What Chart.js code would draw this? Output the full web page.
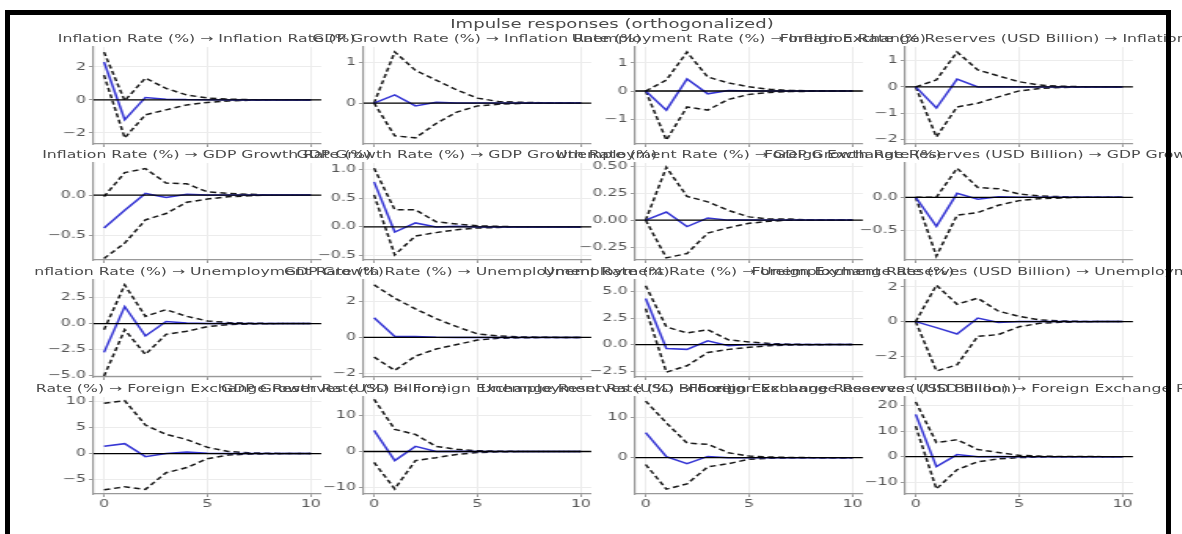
<!DOCTYPE html>
<html>
<head>
<meta charset="utf-8">
<script src="https://cdn.jsdelivr.net/npm/chart.js@4.4.1/dist/chart.umd.min.js"></script>
<style>
  html, body { margin: 0; padding: 0; background: #fff; width: 1182px; height: 534px; overflow: hidden; }
  #fig { position: absolute; left: 34px; top: 0; width: 1148px; height: 534px; overflow: hidden; filter: blur(0.3px); }
  #inner { position: absolute; left: 0; top: 0; width: 732px; height: 534px; transform: scaleX(1.57); transform-origin: 0 0; font-family: "DejaVu Sans", sans-serif; }
  #inner canvas { position: absolute; }
  .ttl { position: absolute; width: 1000px; text-align: center; white-space: nowrap; color: #4a4a4a; font-size: 10px; line-height: 12px; }
  .sup { font-size: 11.5px; line-height: 14px; }
  #frame { position: absolute; left: 5px; top: 10px; width: 1156px; height: 600px; border: 5px solid #000; }
</style>
</head>
<body>
<div id="fig"><div id="inner"></div></div>
<div id="frame"></div>
<script>
const horizons = [0, 1, 2, 3, 4, 5, 6, 7, 8, 9, 10];
const variables = ['Inflation Rate (%)', 'GDP Growth Rate (%)', 'Unemployment Rate (%)', 'Foreign Exchange Reserves (USD Billion)'];
const xTicks = [0, 5, 10];

// each row: response of one variable; inner lists: impulse from variables[0..3]
const irfInflation = [
  [2.3, -1.2, 0.15, 0.05, 0.02, 0.01, 0, 0, 0, 0, 0],
  [0, 0.2, -0.07, 0.02, 0, 0, 0, 0, 0, 0, 0],
  [0, -0.68, 0.43, -0.1, 0.02, 0, 0, 0, 0, 0, 0],
  [0, -0.8, 0.3, 0, 0.01, 0, 0, 0, 0, 0, 0]
];
const upperInflation = [
  [2.9, -0.05, 1.33, 0.7, 0.3, 0.12, 0.05, 0.02, 0.01, 0, 0],
  [0, 1.25, 0.8, 0.56, 0.32, 0.12, 0.04, 0.02, 0.01, 0, 0],
  [0, 0.39, 1.39, 0.5, 0.29, 0.15, 0.06, 0.02, 0.01, 0, 0],
  [0, 0.27, 1.33, 0.65, 0.42, 0.2, 0.07, 0.03, 0.01, 0, 0]
];
const lowerInflation = [
  [1.5, -2.3, -0.9, -0.6, -0.3, -0.15, -0.06, -0.02, -0.01, 0, 0],
  [0, -0.8, -0.85, -0.5, -0.22, -0.07, -0.03, -0.01, 0, 0, 0],
  [0, -1.75, -0.57, -0.68, -0.3, -0.12, -0.05, -0.02, -0.01, 0, 0],
  [0, -1.9, -0.76, -0.62, -0.38, -0.15, -0.06, -0.02, -0.01, 0, 0]
];

const irfGdp = [
  [-0.41, -0.19, 0.02, -0.03, 0.01, 0, 0, 0, 0, 0, 0],
  [0.79, -0.09, 0.07, 0, 0.01, 0, 0, 0, 0, 0, 0],
  [0, 0.075, -0.06, 0.02, 0, 0, 0, 0, 0, 0, 0],
  [0, -0.44, 0.06, -0.03, 0.01, 0, 0, 0, 0, 0, 0]
];
const upperGdp = [
  [-0.02, 0.28, 0.33, 0.15, 0.14, 0.04, 0.02, 0.01, 0, 0, 0],
  [1.03, 0.3, 0.3, 0.09, 0.05, 0.02, 0.01, 0, 0, 0, 0],
  [0, 0.49, 0.22, 0.17, 0.09, 0.03, 0.01, 0.01, 0, 0, 0],
  [0, 0, 0.44, 0.15, 0.13, 0.05, 0.02, 0.01, 0, 0, 0]
];
const lowerGdp = [
  [-0.79, -0.6, -0.31, -0.23, -0.09, -0.05, -0.02, -0.01, 0, 0, 0],
  [0.56, -0.49, -0.16, -0.1, -0.05, -0.02, -0.01, 0, 0, 0, 0],
  [0, -0.35, -0.31, -0.12, -0.07, -0.03, -0.01, 0, 0, 0, 0],
  [0, -0.89, -0.27, -0.23, -0.12, -0.05, -0.02, -0.01, 0, 0, 0]
];

const irfUnemp = [
  [-2.8, 1.65, -1.2, 0.2, 0.05, 0, 0, 0, 0, 0, 0],
  [1.1, 0.05, 0.05, 0.01, 0, 0, 0, 0, 0, 0, 0],
  [4.35, -0.37, -0.45, 0.35, -0.1, 0.02, 0, 0, 0, 0, 0],
  [0, -0.35, -0.72, 0.2, -0.05, 0, 0, 0, 0, 0, 0]
];
const upperUnemp = [
  [-0.6, 3.75, 0.7, 1.35, 0.7, 0.25, 0.1, 0.04, 0.01, 0, 0],
  [2.95, 2.2, 1.6, 1.05, 0.6, 0.2, 0.08, 0.03, 0.01, 0, 0],
  [5.55, 1.67, 1.1, 1.4, 0.45, 0.25, 0.1, 0.04, 0.01, 0, 0],
  [0, 2.1, 1.0, 1.35, 0.6, 0.3, 0.1, 0.04, 0.01, 0, 0]
];
const lowerUnemp = [
  [-5.1, -0.6, -3.0, -1.05, -0.75, -0.3, -0.1, -0.04, -0.01, 0, 0],
  [-1.1, -1.85, -1.05, -0.65, -0.4, -0.15, -0.05, -0.02, -0.01, 0, 0],
  [3.4, -2.6, -2.0, -0.75, -0.45, -0.25, -0.1, -0.04, -0.01, 0, 0],
  [0, -2.85, -2.5, -0.85, -0.75, -0.3, -0.1, -0.04, -0.01, 0, 0]
];

const irfReserves = [
  [1.4, 1.9, -0.6, 0, 0.3, 0.05, 0, 0, 0, 0, 0],
  [5.8, -2.5, 1.4, 0, 0.1, 0, 0, 0, 0, 0, 0],
  [6.2, 0.25, -1.5, 0.3, 0, 0, 0, 0, 0, 0, 0],
  [16.5, -3.9, 0.8, 0, 0.1, 0, 0, 0, 0, 0, 0]
];
const upperReserves = [
  [9.7, 10.2, 5.5, 3.7, 2.7, 1.2, 0.4, 0.15, 0.05, 0, 0],
  [14.4, 6.1, 4.7, 1.4, 0.6, 0.2, 0.1, 0.03, 0, 0, 0],
  [14, 8.6, 3.6, 3.3, 1.2, 0.4, 0.15, 0.05, 0, 0, 0],
  [21.4, 5.5, 6.6, 2.8, 1.6, 0.5, 0.2, 0.07, 0.02, 0, 0]
];
const lowerReserves = [
  [-7.0, -6.4, -6.9, -3.7, -2.7, -1.0, -0.3, -0.1, -0.03, 0, 0],
  [-3.0, -10.3, -2.5, -1.7, -0.8, -0.3, -0.1, -0.03, 0, 0, 0],
  [-1.7, -7.8, -6.5, -2.3, -1.5, -0.4, -0.15, -0.05, 0, 0, 0],
  [11.9, -12.6, -5.1, -2.0, -0.9, -0.4, -0.1, -0.04, -0.01, 0, 0]
];

// y tick values per panel, row = response
const yTicks = [
  [[-2, 0, 2], [0, 1], [-1, 0, 1], [-2, -1, 0, 1]],
  [[-0.5, 0], [-0.5, 0, 0.5, 1], [-0.25, 0, 0.25, 0.5], [-0.5, 0]],
  [[-5, -2.5, 0, 2.5], [-2, 0, 2], [-2.5, 0, 2.5, 5], [-2, 0, 2]],
  [[-5, 0, 5, 10], [-10, 0, 10], [0, 10], [-10, 0, 10, 20]]
];
// axis limits per panel [min, max]
const yLimits = [
  [[-2.67, 3.21], [-1.0, 1.37], [-1.89, 1.57], [-2.17, 1.52]],
  [[-0.81, 0.4], [-0.58, 1.12], [-0.37, 0.53], [-0.95, 0.52]],
  [[-5.19, 4.23], [-2.22, 3.22], [-3.06, 6.1], [-3.2, 2.4]],
  [[-7.8, 10.9], [-11.7, 15], [-9, 15], [-14.6, 23.3]]
];

const irfs = [irfInflation, irfGdp, irfUnemp, irfReserves];
const uppers = [upperInflation, upperGdp, upperUnemp, upperReserves];
const lowers = [lowerInflation, lowerGdp, lowerUnemp, lowerReserves];

// layout (page pixels of the reference, before the horizontal stretch)
const S = 1.57, X0 = 34;
const axLeft = [93, 363, 635, 906];
const axTop = [47, 163, 280, 397];
const axW = 227.5, axH = 97;
const yAxisW = 40, padTop = 8, padRight = 12;
const tickFont = { family: 'DejaVu Sans', size: 10 };

const inner = document.getElementById('inner');
const ux = px => (px - X0) / S;

function decimals(ticks) {
  let d = 0;
  while (d < 4 && ticks.some(v => Math.abs(Math.round(v * 10 ** d) - v * 10 ** d) > 1e-9)) d++;
  return d;
}
function fmt(v, d) {
  const s = v.toFixed(d);
  return s.startsWith('-') ? '\u2212' + s.slice(1) : s;
}

const zeroLine = {
  id: 'zeroLine',
  afterDatasetsDraw(chart) {
    const { ctx, chartArea, scales } = chart;
    const y = scales.y.getPixelForValue(0);
    ctx.save();
    ctx.strokeStyle = '#000';
    ctx.lineWidth = 1.3;
    ctx.beginPath();
    ctx.moveTo(chartArea.left, y);
    ctx.lineTo(chartArea.right, y);
    ctx.stroke();
    ctx.restore();
  }
};

const sup = document.createElement('div');
sup.className = 'ttl sup';
sup.textContent = 'Impulse responses (orthogonalized)';
sup.style.left = (ux(612) - 500) + 'px';
sup.style.top = '17px';
inner.appendChild(sup);

for (let r = 0; r < 4; r++) {
  for (let c = 0; c < 4; c++) {
    const bottomRow = r === 3;
    const left = ux(axLeft[c]);
    const w = axW / S;

    const t = document.createElement('div');
    t.className = 'ttl';
    t.textContent = variables[c] + ' \u2192 ' + variables[r];
    t.style.left = (left + w / 2 - 500) + 'px';
    t.style.top = (axTop[r] - 14.5) + 'px';
    inner.appendChild(t);

    const xH = bottomRow ? 16 : 5;
    const cv = document.createElement('canvas');
    cv.width = Math.round(yAxisW + w + padRight);
    cv.height = padTop + axH + xH;
    cv.style.left = (left - yAxisW) + 'px';
    cv.style.top = (axTop[r] - padTop) + 'px';
    inner.appendChild(cv);

    const ticks = yTicks[r][c];
    const dec = decimals(ticks);
    const pts = arr => horizons.map((h, i) => ({ x: h, y: arr[i] }));

    new Chart(cv, {
      type: 'line',
      data: {
        datasets: [
          { data: pts(irfs[r][c]), borderColor: '#3636d4', borderWidth: 1.5, pointRadius: 0, tension: 0 },
          { data: pts(lowers[r][c]), borderColor: '#1a1a1a', borderWidth: 1.5, borderDash: [4, 2.5], pointRadius: 0, tension: 0 },
          { data: pts(uppers[r][c]), borderColor: '#1a1a1a', borderWidth: 1.5, borderDash: [4, 2.5], pointRadius: 0, tension: 0 }
        ]
      },
      options: {
        responsive: false,
        animation: false,
        events: [],
        layout: { padding: { top: padTop, right: cv.width - yAxisW - w, left: 0, bottom: 0 } },
        plugins: { legend: { display: false }, tooltip: { enabled: false } },
        scales: {
          x: {
            type: 'linear', min: -0.5, max: 10.5, bounds: 'data',
            afterBuildTicks: a => { a.ticks = xTicks.map(v => ({ value: v })); },
            afterFit: a => { a.height = xH; a.paddingLeft = 0; a.paddingRight = 0; },
            ticks: { display: bottomRow, color: '#555', font: tickFont, padding: 1, maxRotation: 0 },
            grid: { color: '#ececec', tickColor: '#999', tickLength: 3 },
            border: { display: true, color: '#999', width: 1.2 }
          },
          y: {
            type: 'linear', min: yLimits[r][c][0], max: yLimits[r][c][1], bounds: 'data',
            afterBuildTicks: a => { a.ticks = ticks.map(v => ({ value: v })); },
            afterFit: a => { a.width = yAxisW; a.paddingTop = 0; a.paddingBottom = 0; },
            ticks: { color: '#555', font: tickFont, padding: 2, callback: v => fmt(v, dec) },
            grid: { color: '#ececec', tickColor: '#999', tickLength: 3 },
            border: { display: true, color: '#999', width: 1.2 }
          }
        }
      },
      plugins: [zeroLine]
    });
  }
}
</script>
</body>
</html>
